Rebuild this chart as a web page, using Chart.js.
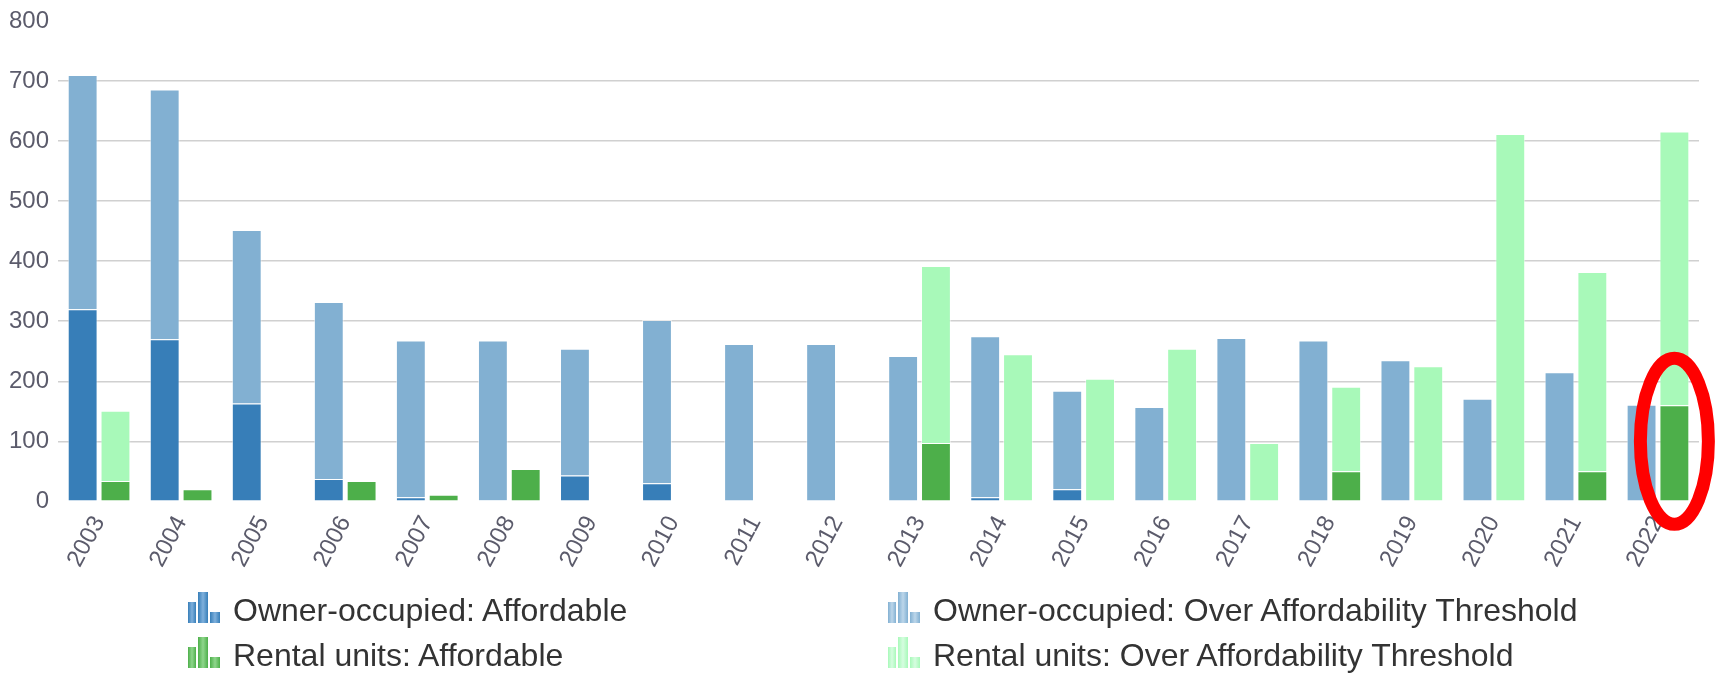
<!DOCTYPE html>
<html>
<head>
<meta charset="utf-8">
<script src="https://cdn.jsdelivr.net/npm/chart.js@4.4.0/dist/chart.umd.min.js"></script>
<style>
  body { margin: 0; background: #fff; font-family: "Liberation Sans", Arial, sans-serif; }
  #wrap { position: relative; width: 1719px; height: 600px; }
  #legend { position: absolute; left: 0; top: 0; width: 1719px; height: 673px; pointer-events: none; }
  .item { position: absolute; display: flex; align-items: center; font-size: 32px; color: #333; white-space: nowrap; }
  .icon { position: relative; top: -3px; width: 32px; height: 31px; margin-right: 13px; }
  .icon span { position: absolute; bottom: 0; }
</style>
</head>
<body>
<div id="wrap"><canvas id="chart"></canvas></div>
<div id="legend"></div>
<script>
const years = ['2003','2004','2005','2006','2007','2008','2009','2010','2011','2012',
               '2013','2014','2015','2016','2017','2018','2019','2020','2021','2022'];

const ownerAffordable = [320, 270, 163, 37, 7, 2, 43, 30, 0, 0, 0, 7, 20, 0, 0, 0, 0, 0, 0, 0];
const ownerOver       = [390, 416, 289, 295, 261, 266, 211, 272, 262, 262, 242, 268, 164, 157, 272, 268, 235, 171, 215, 161];
const rentalAffordable = [34, 20, 0, 34, 11, 54, 0, 0, 0, 0, 97, 0, 0, 0, 0, 50, 0, 0, 50, 160];
const rentalOver       = [117, 0, 0, 0, 0, 0, 0, 0, 0, 0, 295, 245, 204, 254, 97, 141, 225, 612, 332, 456];

const yTicks = [0, 100, 200, 300, 400, 500, 600, 700, 800];

const seriesNames = ['Owner-occupied: Affordable', 'Owner-occupied: Over Affordability Threshold',
                     'Rental units: Affordable', 'Rental units: Over Affordability Threshold'];
const colors = ['#377eb8', '#82b0d2', '#4daf4a', '#a8f9b9'];
const lightColors = ['#7fb0dc', '#bcd6ea', '#8fd68c', '#d6fde0'];

// red ring around the last rental bar
const ringPlugin = {
  id: 'ring',
  afterDraw(chart) {
    const meta = chart.getDatasetMeta(2);
    const bar = meta.data[meta.data.length - 1];
    const y = chart.scales.y;
    const ctx = chart.ctx;
    ctx.save();
    ctx.beginPath();
    ctx.ellipse(bar.x, y.getPixelForValue(100), 34, 83, 0, 0, Math.PI * 2);
    ctx.strokeStyle = '#ff0000';
    ctx.lineWidth = 13;
    ctx.stroke();
    ctx.restore();
  }
};

const mk = (i, data, stack) => ({
  label: seriesNames[i],
  data: data,
  stack: stack,
  backgroundColor: colors[i],
  borderColor: 'rgba(255,255,255,0.55)',
  borderWidth: 1,
  barPercentage: 0.91,
  categoryPercentage: 0.8
});

new Chart(document.getElementById('chart'), {
  type: 'bar',
  data: {
    labels: years,
    datasets: [
      mk(0, ownerAffordable, 'owner'),
      mk(1, ownerOver, 'owner'),
      mk(2, rentalAffordable, 'rental'),
      mk(3, rentalOver, 'rental')
    ]
  },
  options: {
    responsive: true,
    maintainAspectRatio: false,
    animation: false,
    layout: { padding: { left: 0, right: 20, top: -4, bottom: 26 } },
    plugins: { legend: { display: false }, tooltip: { enabled: false } },
    scales: {
      x: {
        stacked: true,
        grid: { display: false },
        border: { display: false },
        ticks: { color: '#5b5b6b', font: { size: 24, family: 'Liberation Sans' }, maxRotation: 62, minRotation: 62, padding: 2 }
      },
      y: {
        stacked: true,
        min: 0, max: 800,
        afterBuildTicks: (axis) => { axis.ticks = yTicks.map(v => ({ value: v })); },
        grid: {
          drawTicks: false,
          lineWidth: 1.5,
          color: (c) => (c.tick && (c.tick.value === 0 || c.tick.value === 800)) ? 'rgba(0,0,0,0)' : '#d0d0d0'
        },
        border: { display: false },
        ticks: { color: '#5b5b6b', font: { size: 24, family: 'Liberation Sans', lineHeight: 1 }, padding: 9 }
      }
    }
  },
  plugins: [ringPlugin]
});

// legend, two columns
const legend = document.getElementById('legend');
const spots = [[188, 611], [888, 611], [188, 656], [888, 656]];
seriesNames.forEach((name, i) => {
  const it = document.createElement('div');
  it.className = 'item';
  it.style.left = spots[i][0] + 'px';
  it.style.top = (spots[i][1] - 19) + 'px';
  const ic = document.createElement('div');
  ic.className = 'icon';
  [[0, 8, 21], [10, 10, 31], [22, 10, 11]].forEach(b => {
    const s = document.createElement('span');
    s.style.left = b[0] + 'px';
    s.style.width = b[1] + 'px';
    s.style.height = b[2] + 'px';
    s.style.background = 'linear-gradient(to right, ' + colors[i] + ', ' + lightColors[i] + ' 50%, ' + colors[i] + ')';
    ic.appendChild(s);
  });
  it.appendChild(ic);
  const t = document.createElement('span');
  t.textContent = name;
  it.appendChild(t);
  legend.appendChild(it);
});
</script>
</body>
</html>
